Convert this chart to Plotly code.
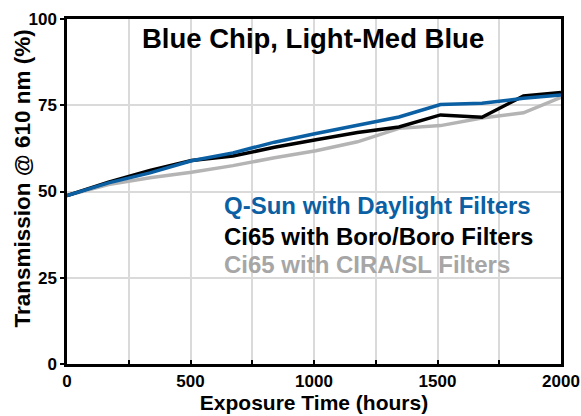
import plotly.graph_objects as go

hours = [0, 168, 336, 504, 672, 840, 1008, 1176, 1344, 1512, 1680, 1848, 2000]
qsun_daylight = [48.8, 52.5, 55.4, 58.9, 61.2, 64.3, 66.8, 69.2, 71.6, 75.2, 75.6, 77.0, 78.0]
ci65_boro = [48.8, 52.7, 56.1, 59.0, 60.3, 62.8, 65.0, 67.1, 68.7, 72.2, 71.5, 77.7, 78.7]
ci65_cira = [48.8, 52.0, 54.0, 55.6, 57.5, 59.8, 61.8, 64.4, 68.3, 69.1, 71.3, 72.8, 77.3]

x_tickvals = [0, 250, 500, 750, 1000, 1250, 1500, 1750, 2000]
x_ticktext = ["0", "", "500", "", "1000", "", "1500", "", "2000"]
y_tickvals = [0, 25, 50, 75, 100]

title_text = "Blue Chip, Light-Med Blue"
x_title = "Exposure Time (hours)"
y_title = "Transmission @ 610 nm (%)"
series_names = ["Q-Sun with Daylight Filters", "Ci65 with Boro/Boro Filters", "Ci65 with CIRA/SL Filters"]

BLUE = "#0b5fa3"
BLACK = "#000000"
GRAY = "#b4b4b4"
GRAY_TXT = "#a6a6a6"
FONT = "Liberation Sans, Arial, Helvetica, sans-serif"

fig = go.Figure()
fig.add_trace(go.Scatter(x=hours, y=ci65_cira, mode="lines", name=series_names[2],
                         line=dict(color=GRAY, width=3.5)))
fig.add_trace(go.Scatter(x=hours, y=ci65_boro, mode="lines", name=series_names[1],
                         line=dict(color=BLACK, width=3.5)))
fig.add_trace(go.Scatter(x=hours, y=qsun_daylight, mode="lines", name=series_names[0],
                         line=dict(color=BLUE, width=3.5)))

fig.add_annotation(text="<b>" + title_text + "</b>", xref="paper", x=0.497, y=94.3,
                   yref="y", showarrow=False, font=dict(size=27.5, color="black", family=FONT),
                   xanchor="center", yanchor="middle")
for name, col, yy in zip(series_names, [BLUE, BLACK, GRAY_TXT], [45.8, 37.1, 28.7]):
    fig.add_annotation(text="<b>" + name + "</b>", x=627, y=yy, xref="x", yref="y",
                       showarrow=False, font=dict(size=24, color=col, family=FONT),
                       xanchor="left", yanchor="middle")
fig.add_annotation(text="<b>" + y_title + "</b>", xref="paper", yref="paper", x=0, y=0.5,
                   xshift=-45, yshift=13, textangle=-90, showarrow=False,
                   font=dict(size=22.5, color="black", family=FONT),
                   xanchor="center", yanchor="middle")

fig.update_layout(
    width=581, height=416,
    margin=dict(l=67, r=20, t=19, b=52),
    paper_bgcolor="white", plot_bgcolor="white",
    showlegend=False,
    font=dict(family=FONT, color="black"),
)
fig.update_xaxes(
    range=[0, 2000], tickvals=x_tickvals, automargin=False,
    ticktext=["<b>%s</b>" % t if t else "" for t in x_ticktext],
    showgrid=True, gridcolor="#dadada", gridwidth=2,
    showline=True, linecolor="black", linewidth=2.5, mirror=True,
    ticks="inside", ticklen=4, tickwidth=2, tickcolor="black",
    tickfont=dict(size=17, family=FONT, color="black"),
    title=dict(text="<b>" + x_title + "</b>", font=dict(size=21, family=FONT), standoff=2),
    zeroline=False,
)
fig.update_yaxes(
    range=[0, 100], tickvals=y_tickvals, automargin=False,
    ticktext=["<b>%d</b>" % v for v in y_tickvals],
    showgrid=True, gridcolor="#dadada", gridwidth=2,
    showline=True, linecolor="black", linewidth=2.5, mirror=True,
    ticks="outside", ticklen=4, tickwidth=2, tickcolor="black",
    tickfont=dict(size=17, family=FONT, color="black"),
    zeroline=False,
)

fig.write_html("out.html", config={"displayModeBar": False},
               post_script="document.body.style.margin='0';document.body.style.overflow='hidden';")
